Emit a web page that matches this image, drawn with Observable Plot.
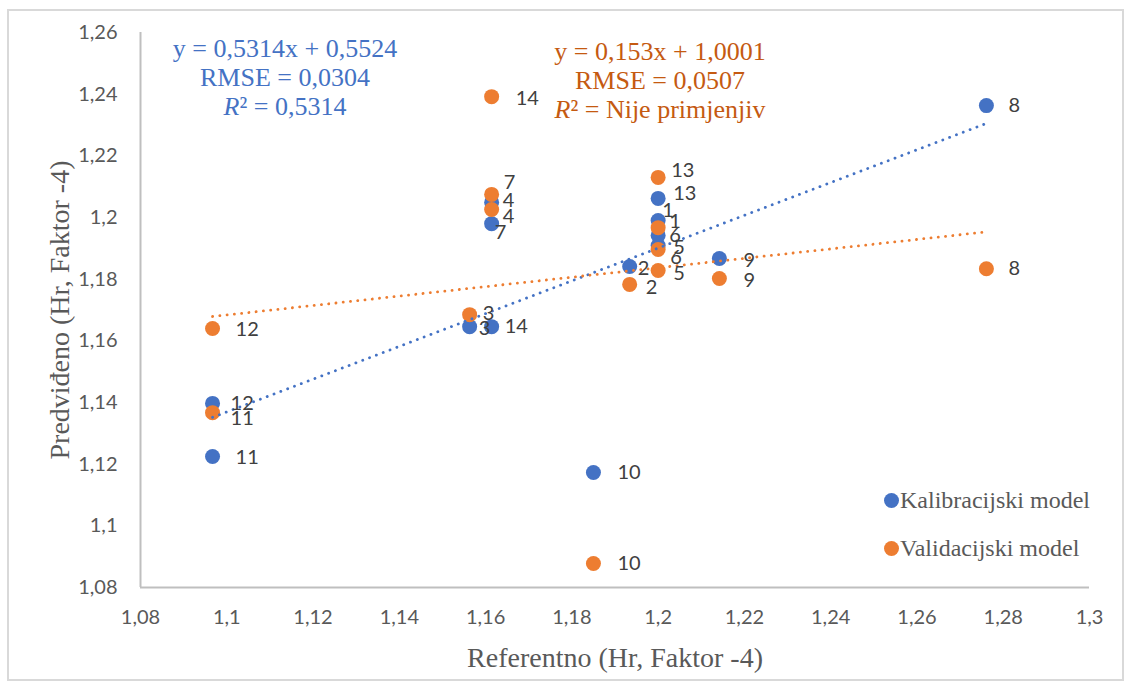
<!DOCTYPE html>
<html>
<head>
<meta charset="utf-8">
<script src="https://cdn.jsdelivr.net/npm/d3@7"></script>
<script src="https://cdn.jsdelivr.net/npm/@observablehq/plot@0.6"></script>
<style>
  html, body { margin: 0; padding: 0; background: #fff; }
  #wrap { position: relative; width: 1130px; height: 686px; overflow: hidden; }
  #border { position: absolute; left: 7px; top: 9px; width: 1117px; height: 672px; border: 2px solid #d9d9d9; box-sizing: border-box; pointer-events: none; }
  .ann { position: absolute; font-family: "Liberation Serif", "Times New Roman", serif; font-size: 26px; line-height: 29px; text-align: center; white-space: nowrap; }
  .legend { position: absolute; font-family: "Liberation Serif", "Times New Roman", serif; font-size: 24px; color: #595959; white-space: nowrap; display: flex; align-items: center; }
  .legend .sw { display: inline-block; width: 15px; height: 15px; border-radius: 50%; margin-right: 1px; }
</style>
</head>
<body>
<div id="wrap">
  <div id="chart"></div>
  <div id="border"></div>
</div>
<script>
// ---- data ----
const ids = [1, 2, 3, 4, 5, 6, 7, 8, 9, 10, 11, 12, 13, 14];
const referentno = [1.2, 1.1934, 1.1563, 1.1614, 1.2, 1.2, 1.1614, 1.2761, 1.2142, 1.185, 1.0967, 1.0967, 1.2, 1.1614];
const kalibracijski = [1.199, 1.1841, 1.1646, 1.2049, 1.1909, 1.1942, 1.198, 1.2363, 1.1867, 1.1173, 1.1225, 1.1397, 1.2062, 1.1646];
const validacijski = [1.1967, 1.1783, 1.1685, 1.2026, 1.1828, 1.1896, 1.2075, 1.1834, 1.1802, 1.0878, 1.1367, 1.164, 1.213, 1.2392];
const seriesNames = ["Kalibracijski model", "Validacijski model"];
const fitKal = [0.5314, 0.5524];   // slope, intercept
const fitVal = [0.153, 1.0001];
const annKal = ["y = 0,5314x + 0,5524", "RMSE = 0,0304", "0,5314"];
const annVal = ["y = 0,153x + 1,0001", "RMSE = 0,0507", "Nije primjenjiv"];
const xTicks = [1.08, 1.1, 1.12, 1.14, 1.16, 1.18, 1.2, 1.22, 1.24, 1.26, 1.28, 1.3];
const yTicks = [1.08, 1.1, 1.12, 1.14, 1.16, 1.18, 1.2, 1.22, 1.24, 1.26];
const xTitle = "Referentno (Hr, Faktor -4)";
const yTitle = "Predviđeno (Hr, Faktor -4)";

// ---- layout / style ----
const BLUE = "#4472C4", ORANGE = "#ED7D31";
const BLUE_TXT = "#4472C4", ORANGE_TXT = "#C55A11";
const labelNudge = {
  K: {1:[4,-10], 2:[8,2], 3:[9,2], 4:[11,-2], 5:[15,2], 6:[11,0], 7:[3,9], 8:[22,0], 9:[24,2], 10:[24,0], 11:[23,1], 12:[18,0], 13:[15,-5], 14:[13,0]},
  V: {1:[11,-6], 2:[16,3], 3:[13,-1], 4:[11,7], 5:[15,3], 6:[12,8], 7:[12,-12], 8:[22,0], 9:[24,2], 10:[24,0], 11:[18,6], 12:[23,1], 13:[13,-7], 14:[24,2]}
};

const kal = ids.map((id, i) => ({id, x: referentno[i], y: kalibracijski[i], s: "K"}));
const val = ids.map((id, i) => ({id, x: referentno[i], y: validacijski[i], s: "V"}));
const ext = d3.extent(referentno);
const trend = (f) => ext.map(x => ({x, y: f[0] * x + f[1]}));

const fmt = d => String(+d.toFixed(2)).replace(".", ",");
const xDomain = [xTicks[0], xTicks[xTicks.length - 1]];
const yDomain = [yTicks[0], yTicks[yTicks.length - 1]];

const labelMarks = [...kal, ...val].map(d => {
  const [dx, dy] = labelNudge[d.s][d.id];
  return Plot.text([d], {x: "x", y: "y", text: d => String(d.id), dx, dy, textAnchor: "start", lineAnchor: "middle", fontSize: 20, fill: "#404040"});
});

const chart = Plot.plot({
  width: 1130,
  height: 686,
  marginLeft: 140,
  marginRight: 41,
  marginTop: 32,
  marginBottom: 99,
  style: {fontFamily: "Lato, sans-serif", background: "transparent"},
  x: {domain: xDomain},
  y: {domain: yDomain},
  marks: [
    Plot.axisX({ticks: xTicks, tickFormat: fmt, tickSize: 0, tickPadding: 22, fontSize: 20, fill: "#595959", label: null}),
    Plot.axisY({ticks: yTicks, tickFormat: fmt, tickSize: 0, tickPadding: 23, fontSize: 20, fill: "#595959", label: null}),
    Plot.ruleY([yDomain[0]], {stroke: "#bfbfbf", strokeWidth: 2}),
    Plot.ruleX([xDomain[0]], {stroke: "#bfbfbf", strokeWidth: 2}),
    Plot.text([xTitle], {frameAnchor: "bottom", dy: 71, text: d => d, fontSize: 28, fill: "#595959", fontFamily: "Liberation Serif, serif", textAnchor: "middle", lineAnchor: "middle"}),
    Plot.text([yTitle], {frameAnchor: "left", dx: -80, rotate: -90, text: d => d, fontSize: 28, fill: "#595959", fontFamily: "Liberation Serif, serif", textAnchor: "middle", lineAnchor: "middle"}),
    Plot.dot(kal, {x: "x", y: "y", r: 7.5, fill: BLUE}),
    Plot.dot(val, {x: "x", y: "y", r: 7.5, fill: ORANGE}),
    Plot.line(trend(fitKal), {x: "x", y: "y", stroke: BLUE, strokeWidth: 2.8, strokeDasharray: "0.1 7.2", strokeLinecap: "round"}),
    Plot.line(trend(fitVal), {x: "x", y: "y", stroke: ORANGE, strokeWidth: 2.8, strokeDasharray: "0.1 7.2", strokeLinecap: "round"}),
    ...labelMarks
  ]
});
document.getElementById("chart").appendChild(chart);

// annotations (trendline equations)
const wrap = document.getElementById("wrap");
function addAnn(lines, color, cx, top) {
  const div = document.createElement("div");
  div.className = "ann";
  div.style.color = color;
  div.style.left = (cx - 200) + "px";
  div.style.width = "400px";
  div.style.top = top + "px";
  const l1 = document.createElement("div"); l1.textContent = lines[0];
  const l2 = document.createElement("div"); l2.textContent = lines[1];
  const l3 = document.createElement("div");
  const it = document.createElement("i"); it.textContent = "R";
  l3.appendChild(it);
  l3.appendChild(document.createTextNode("² = " + lines[2]));
  div.append(l1, l2, l3);
  wrap.appendChild(div);
}
addAnn(annKal, BLUE_TXT, 285, 34);
addAnn(annVal, ORANGE_TXT, 660, 37);

// legend
function addLegend(name, color, cy) {
  const div = document.createElement("div");
  div.className = "legend";
  div.style.left = "884px";
  div.style.top = (cy - 15) + "px";
  div.style.height = "30px";
  const sw = document.createElement("span");
  sw.className = "sw";
  sw.style.background = color;
  div.appendChild(sw);
  div.appendChild(document.createTextNode(name));
  wrap.appendChild(div);
}
addLegend(seriesNames[0], BLUE, 500);
addLegend(seriesNames[1], ORANGE, 548);
</script>
</body>
</html>
